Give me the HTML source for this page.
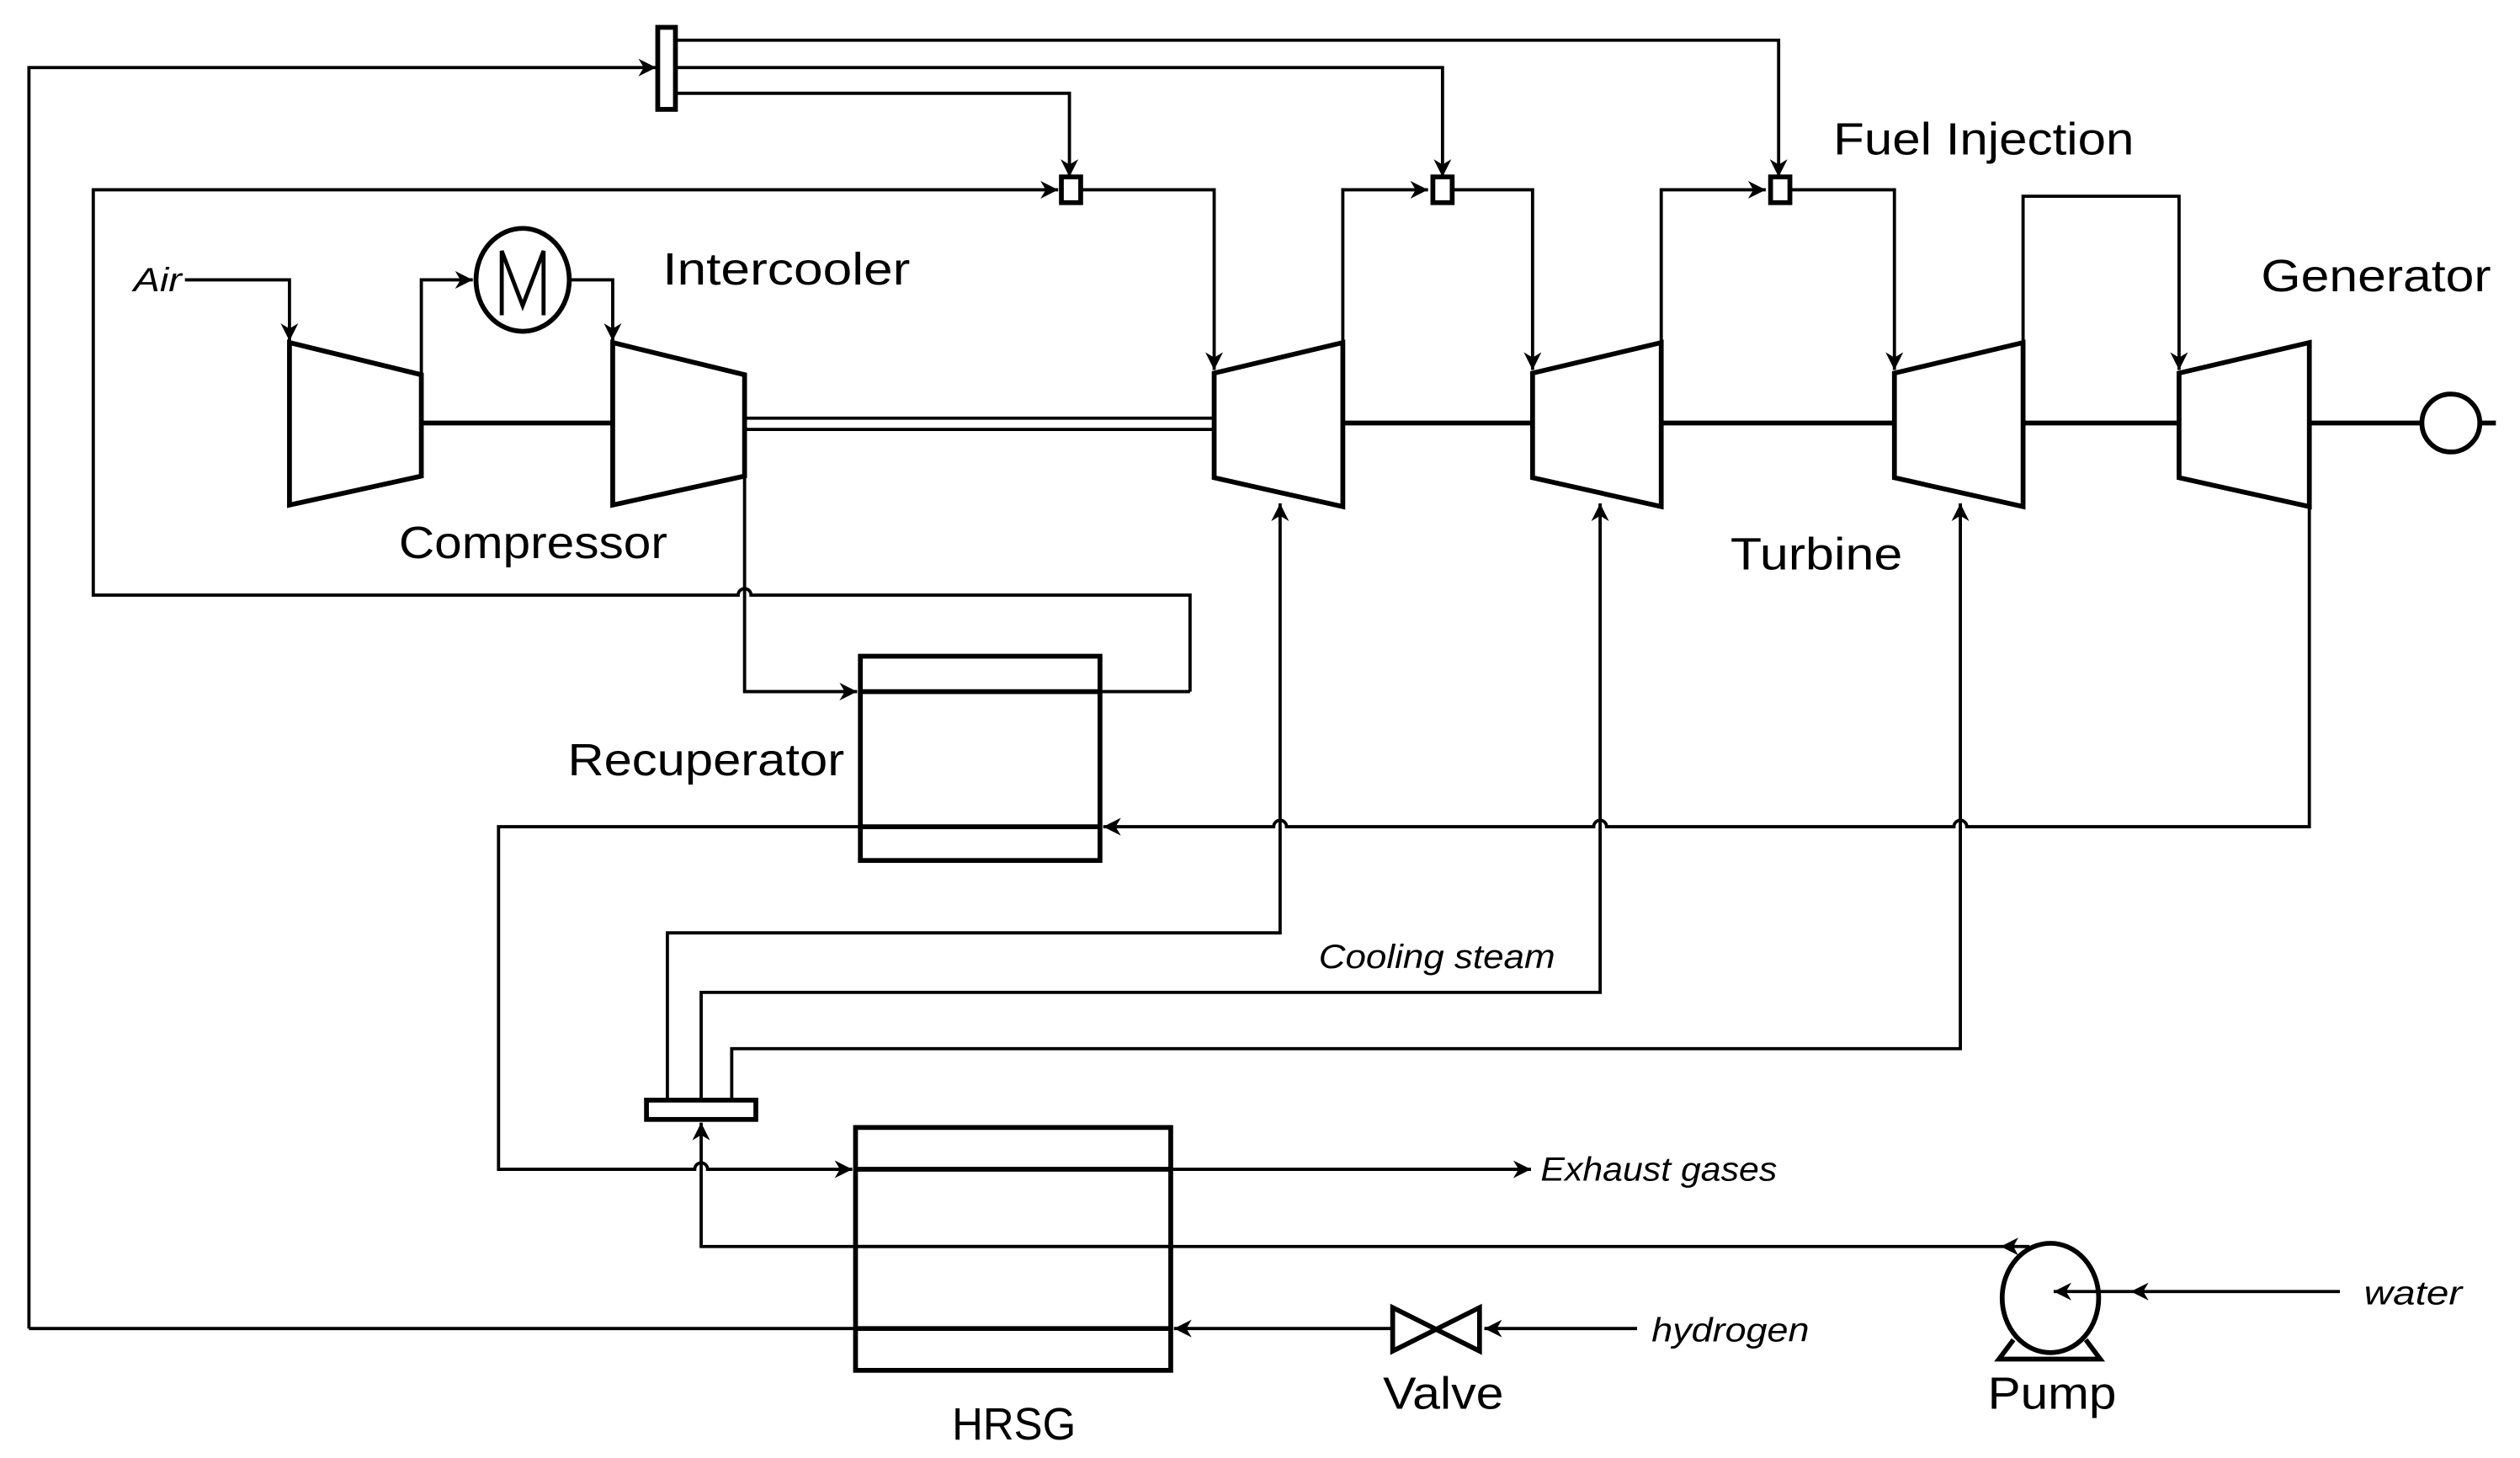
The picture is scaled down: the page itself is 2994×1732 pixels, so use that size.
<!DOCTYPE html>
<html><head><meta charset="utf-8"><style>
html,body{margin:0;padding:0;background:#fff;}
svg{display:block;}
text{font-family:"Liberation Sans",sans-serif;fill:#000;}
.l{font-size:28px;}
.i{font-size:21px;font-style:italic;}
</style></head><body>
<svg width="2994" height="1732" viewBox="0 0 1567 906.5" preserveAspectRatio="none" xmlns="http://www.w3.org/2000/svg">
<defs>
<marker id="b" viewBox="0 0 10 10" refX="10" refY="5" markerWidth="11" markerHeight="11" markerUnits="userSpaceOnUse" orient="auto"><path d="M0,0 L10,5 L0,10 L3,5 z" fill="#000"/></marker>
</defs>
<g fill="none" stroke="#000" stroke-width="2">
<path d="M420,25 H1106 V110" marker-end="url(#b)"/>
<path d="M18,826 V42 H408" marker-end="url(#b)"/>
<path d="M420,42 H897 V110" marker-end="url(#b)"/>
<path d="M420,58 H665 V110" marker-end="url(#b)"/>
<path d="M740,430 V370 H467 a4,4 0 0 0 -8,0 H58 V118 H658" marker-end="url(#b)"/>
<path d="M672,118 H755 V230" marker-end="url(#b)"/>
<path d="M835,213 V118 H888" marker-end="url(#b)"/>
<path d="M903,118 H953 V230" marker-end="url(#b)"/>
<path d="M1033,213 V118 H1098" marker-end="url(#b)"/>
<path d="M1113,118 H1178 V230" marker-end="url(#b)"/>
<path d="M1258,213 V122 H1355 V230" marker-end="url(#b)"/>
<path d="M115,174 H180 V212" marker-end="url(#b)"/>
<path d="M262,233 V174 H294" marker-end="url(#b)"/>
<path d="M355,174 H381 V212" marker-end="url(#b)"/>
<path d="M463,296 V430 H533" marker-end="url(#b)"/>
<path d="M684,430 H740"/>
<path d="M1436,315 V514 H1223 a4,4 0 0 0 -8,0 H999 a4,4 0 0 0 -8,0 H800 a4,4 0 0 0 -8,0 H686" marker-end="url(#b)"/>
<path d="M535,514 H310 V727 H432 a4,4 0 0 1 8,0 H530" marker-end="url(#b)"/>
<path d="M728,727 H952" marker-end="url(#b)"/>
<path d="M1262,775 H436 V698" marker-end="url(#b)"/>
<path d="M1455,803 H1325" marker-end="url(#b)"/>
<path d="M1325,803 H1277" marker-end="url(#b)"/>
<path d="M415,684 V580 H796 V313" marker-end="url(#b)"/>
<path d="M436,684 V617 H995 V313" marker-end="url(#b)"/>
<path d="M455,684 V652 H1219 V313" marker-end="url(#b)"/>
<path d="M1018,826 H923" marker-end="url(#b)"/>
<path d="M865,826 H730" marker-end="url(#b)"/>
<path d="M532,826 H18"/>
<path d="M463,260 H755 M463,267 H755"/>
</g>
<path d="M1244,775 L1255,769.5 L1252,775 L1255,780.5 Z" fill="#000"/>
<g fill="none" stroke="#000" stroke-width="3">
<path d="M262,263 H381 M835,263 H953 M1033,263 H1178 M1258,263 H1355 M1436,263 H1506 M1542,263 H1552"/>
<path d="M180,213 L262,233 V296 L180,314 Z"/>
<path d="M381,213 L463,233 V296 L381,314 Z"/>
<path d="M755,232 L835,213 V315 L755,297 Z"/>
<path d="M953,232 L1033,213 V315 L953,297 Z"/>
<path d="M1178,232 L1258,213 V315 L1178,297 Z"/>
<path d="M1355,232 L1436,213 V315 L1355,297 Z"/>
<circle cx="1524" cy="263" r="18"/>
<ellipse cx="325" cy="174" rx="29" ry="32"/>
<path d="M312,196 V156 L325,190 L338,156 V196" stroke-width="2.5"/>
<rect x="409" y="17" width="11" height="51"/>
<rect x="660" y="110" width="12" height="16"/>
<rect x="891" y="110" width="12" height="16"/>
<rect x="1101" y="110" width="12" height="16"/>
<rect x="402" y="684" width="68" height="12"/>
<rect x="535" y="408" width="149" height="127"/>
<path d="M535,430 H684 M535,514 H684"/>
<rect x="532" y="701" width="196" height="151"/>
<path d="M532,727 H728 M532,826 H728"/>
<path d="M532,775 H728" stroke-width="2"/>
<path d="M866,813 L920,840 V813 L866,840 Z"/>
<ellipse cx="1275" cy="807" rx="30" ry="34"/>
<path d="M1252,833 L1243,845 H1306 L1297,833"/>
</g>
<text class="l" x="412" y="177" textLength="154" lengthAdjust="spacingAndGlyphs">Intercooler</text>
<text class="l" x="248" y="347" textLength="167" lengthAdjust="spacingAndGlyphs">Compressor</text>
<text class="l" x="1140" y="96" textLength="187" lengthAdjust="spacingAndGlyphs">Fuel Injection</text>
<text class="l" x="1406" y="181" textLength="143" lengthAdjust="spacingAndGlyphs">Generator</text>
<text class="l" x="1076" y="354" textLength="107" lengthAdjust="spacingAndGlyphs">Turbine</text>
<text class="l" x="353" y="482" textLength="172" lengthAdjust="spacingAndGlyphs">Recuperator</text>
<text class="l" x="592" y="895" textLength="77" lengthAdjust="spacingAndGlyphs">HRSG</text>
<text class="l" x="860" y="876" textLength="75" lengthAdjust="spacingAndGlyphs">Valve</text>
<text class="l" x="1236" y="876" textLength="80" lengthAdjust="spacingAndGlyphs">Pump</text>
<text class="i" x="83" y="181" textLength="30" lengthAdjust="spacingAndGlyphs">Air</text>
<text class="i" x="820" y="602" textLength="147" lengthAdjust="spacingAndGlyphs">Cooling steam</text>
<text class="i" x="958" y="734" textLength="147" lengthAdjust="spacingAndGlyphs">Exhaust gases</text>
<text class="i" x="1027" y="834" textLength="98" lengthAdjust="spacingAndGlyphs">hydrogen</text>
<text class="i" x="1470" y="811" textLength="61" lengthAdjust="spacingAndGlyphs">water</text>
</svg>
</body></html>
